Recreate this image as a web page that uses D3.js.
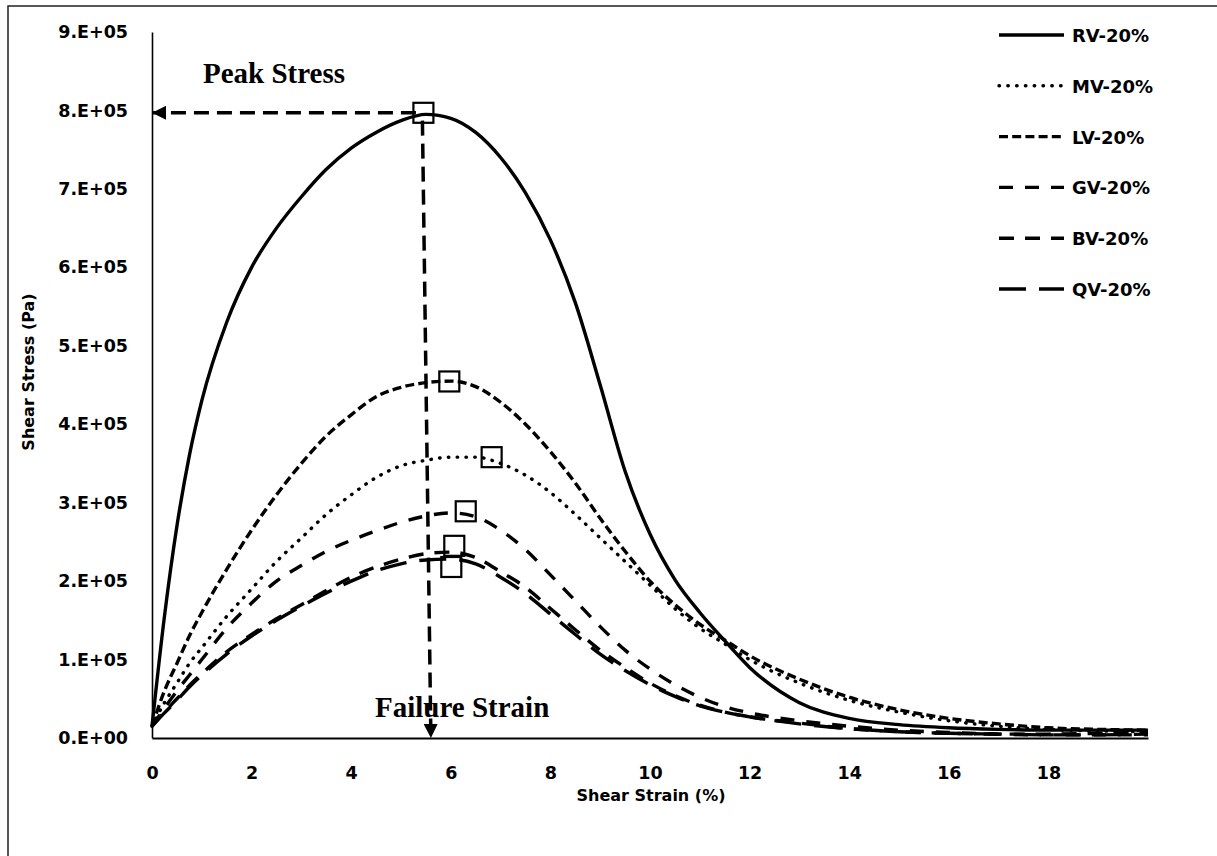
<!DOCTYPE html>
<html>
<head>
<meta charset="utf-8">
<script src="https://cdn.jsdelivr.net/npm/d3@7"></script>
<style>
  html, body { margin: 0; padding: 0; background: #fff; }
  svg { display: block; }
  .tick-label { font-family: "DejaVu Sans", sans-serif; font-weight: bold; font-size: 17.5px; fill: #000; }
  .axis-title { font-family: "DejaVu Sans", sans-serif; font-weight: bold; font-size: 16px; fill: #000; }
  .legend-label { font-family: "DejaVu Sans", sans-serif; font-weight: bold; font-size: 18px; fill: #000; }
  .note { font-family: "Liberation Serif", "Times New Roman", serif; font-weight: bold; font-size: 29px; fill: #000; }
</style>
</head>
<body>
<svg id="chart" width="1217" height="856"></svg>
<script>
// Shear strain samples (%) shared by every series
const strain = [0, 0.25, 0.5, 0.75, 1, 1.5, 2, 2.5, 3, 3.5, 4, 4.5, 5, 5.5, 6, 6.5, 7, 7.5, 8, 8.5, 9, 9.5,
                10, 10.5, 11, 11.5, 12, 13, 14, 15, 16, 17, 18, 19, 20];

// Shear stress (Pa) for each mixture
const rv = [15000, 155000, 270000, 360000, 430000, 530000, 600000, 650000, 690000, 725000, 752000, 772000, 787000, 795000, 790000, 772000, 740000, 695000, 635000, 555000, 450000, 340000,
            260000, 202000, 160000, 124000, 90000, 45000, 25000, 17000, 13000, 11000, 10000, 10000, 10000];
const mv = [15000, 45000, 70000, 95000, 115000, 155000, 190000, 225000, 255000, 285000, 310000, 332000, 347000, 354000, 358000, 358000, 350000, 335000, 313000, 285000, 255000, 225000,
            195000, 165000, 140000, 120000, 100000, 70000, 48000, 33000, 22000, 15000, 11000, 9000, 8000];
const lv = [15000, 60000, 95000, 130000, 160000, 215000, 265000, 310000, 350000, 385000, 412000, 435000, 447000, 453000, 455000, 448000, 428000, 400000, 365000, 325000, 280000, 238000,
            200000, 170000, 145000, 125000, 105000, 75000, 52000, 36000, 25000, 18000, 13000, 11000, 10000];
const gv = [15000, 38000, 60000, 80000, 100000, 140000, 172000, 200000, 220000, 238000, 252000, 264000, 275000, 283000, 287000, 282000, 265000, 240000, 208000, 175000, 142000, 112000,
            88000, 68000, 52000, 40000, 32000, 22000, 15000, 10000, 7000, 5000, 4000, 4000, 4000];
const bv = [15000, 33000, 50000, 67000, 82000, 110000, 132000, 152000, 170000, 188000, 205000, 218000, 228000, 235000, 237000, 230000, 212000, 192000, 165000, 138000, 112000, 90000,
            70000, 54000, 42000, 33000, 27000, 19000, 12000, 8000, 6000, 5000, 5000, 6000, 7000];
const qv = [15000, 32000, 48000, 65000, 80000, 107000, 130000, 150000, 168000, 185000, 200000, 213000, 222000, 227000, 228000, 222000, 205000, 184000, 158000, 132000, 107000, 86000,
            68000, 53000, 41000, 33000, 27000, 18000, 12000, 8000, 6000, 5000, 4000, 4000, 5000];

const seriesNames = ["RV-20%", "MV-20%", "LV-20%", "GV-20%", "BV-20%", "QV-20%"];
const seriesValues = [rv, mv, lv, gv, bv, qv];

// Peak points marked with open squares (strain %, stress Pa)
const peakStrain = [5.45, 6.82, 5.97, 6.30, 6.07, 6.01];
const peakStress = [797000, 358000, 454500, 289000, 245000, 218000];

// Axis ticks
const xTicks = [0, 2, 4, 6, 8, 10, 12, 14, 16, 18];
const yTicks = [0, 100000, 200000, 300000, 400000, 500000, 600000, 700000, 800000, 900000];
const yTickLabels = ["0.E+00", "1.E+05", "2.E+05", "3.E+05", "4.E+05", "5.E+05", "6.E+05", "7.E+05", "8.E+05", "9.E+05"];

// Annotation arrows: peak stress read across, failure strain read down
const peakArrow = { fromStrain: 5.30, toStrain: 0, stress: 797000 };
const failArrow = { fromStrain: 5.43, fromStress: 787000, toStrain: 5.60, toStress: 0 };

// Line styles per series
const dashes = [null, "0.5,8.3", "9,4.2", "14,12", "15,11", "27,13"];
const caps = ["butt", "round", "butt", "butt", "butt", "butt"];

const svg = d3.select("#chart");

const x = d3.scaleLinear().domain([0, 20]).range([152, 1148]);
const y = d3.scaleLinear().domain([0, 900000]).range([738, 32]);

// Outer frame (left and top edges)
svg.append("path")
  .attr("d", "M8,856 L8,6 L1217,6")
  .attr("fill", "none").attr("stroke", "#222").attr("stroke-width", 1.5);

// Axes
const xAxis = d3.axisBottom(x).tickValues(xTicks).tickSize(0).tickPadding(30).tickFormat(d3.format("d"));
const gx = svg.append("g").attr("transform", `translate(0,${y(0)})`).call(xAxis);
gx.select(".domain").attr("stroke", "#000").attr("stroke-width", 2);
gx.selectAll("text").attr("class", "tick-label").attr("dy", null).attr("y", 41);

const yAxis = d3.axisLeft(y).tickValues(yTicks).tickSize(0).tickPadding(24)
  .tickFormat((d, i) => yTickLabels[i]);
const gy = svg.append("g").attr("transform", `translate(${x(0)},0)`).call(yAxis);
gy.select(".domain").attr("stroke", "#000").attr("stroke-width", 1.6);
gy.selectAll("text").attr("class", "tick-label");

// Axis titles
svg.append("text").attr("class", "axis-title")
  .attr("x", 651).attr("y", 801).attr("text-anchor", "middle").text("Shear Strain (%)");
svg.append("text").attr("class", "axis-title")
  .attr("transform", "translate(34,372) rotate(-90)")
  .attr("text-anchor", "middle").text("Shear Stress (Pa)");

// Curves
const line = d3.line().x(d => x(d[0])).y(d => y(d[1])).curve(d3.curveMonotoneX);
seriesValues.forEach((vals, i) => {
  const pts = strain.map((s, k) => [s, vals[k]]);
  svg.append("path")
    .datum(pts)
    .attr("d", line)
    .attr("fill", "none")
    .attr("stroke", "#000")
    .attr("stroke-width", 3.4)
    .attr("stroke-linecap", caps[i])
    .attr("stroke-dasharray", dashes[i]);
});

// Arrowheads
const defs = svg.append("defs");
defs.append("marker")
  .attr("id", "arrowhead")
  .attr("viewBox", "0 0 14 14")
  .attr("refX", 13).attr("refY", 7)
  .attr("markerWidth", 14).attr("markerHeight", 14)
  .attr("markerUnits", "userSpaceOnUse")
  .attr("orient", "auto")
  .append("path").attr("d", "M0,0 L14,7 L0,14 Z").attr("fill", "#000");

svg.append("line")
  .attr("x1", x(peakArrow.fromStrain)).attr("y1", y(peakArrow.stress))
  .attr("x2", x(peakArrow.toStrain) + 1).attr("y2", y(peakArrow.stress))
  .attr("stroke", "#000").attr("stroke-width", 3.5)
  .attr("stroke-dasharray", "15,8")
  .attr("marker-end", "url(#arrowhead)");

svg.append("line")
  .attr("x1", x(failArrow.fromStrain)).attr("y1", y(failArrow.fromStress))
  .attr("x2", x(failArrow.toStrain)).attr("y2", y(failArrow.toStress) - 1)
  .attr("stroke", "#000").attr("stroke-width", 3.5)
  .attr("stroke-dasharray", "15,8")
  .attr("marker-end", "url(#arrowhead)");

// Annotation labels
svg.append("text").attr("class", "note").attr("x", 203).attr("y", 83).text("Peak Stress");
svg.append("text").attr("class", "note").attr("x", 375).attr("y", 717).text("Failure Strain");

// Peak markers
svg.selectAll("rect.peak")
  .data(peakStrain.map((s, i) => [s, peakStress[i]]))
  .enter().append("rect")
  .attr("class", "peak")
  .attr("x", d => x(d[0]) - 10).attr("y", d => y(d[1]) - 10)
  .attr("width", 20).attr("height", 20)
  .attr("fill", "none").attr("stroke", "#000").attr("stroke-width", 2.2);

// Legend
const legendY = d3.scaleLinear().domain([0, 5]).range([35, 289]);
seriesNames.forEach((name, i) => {
  const yy = legendY(i);
  svg.append("line")
    .attr("x1", 999).attr("x2", 1064).attr("y1", yy).attr("y2", yy)
    .attr("stroke", "#000").attr("stroke-width", 3.4)
    .attr("stroke-linecap", caps[i])
    .attr("stroke-dasharray", dashes[i]);
  svg.append("text").attr("class", "legend-label")
    .attr("x", 1072).attr("y", yy + 7).text(name);
});
</script>
</body>
</html>
